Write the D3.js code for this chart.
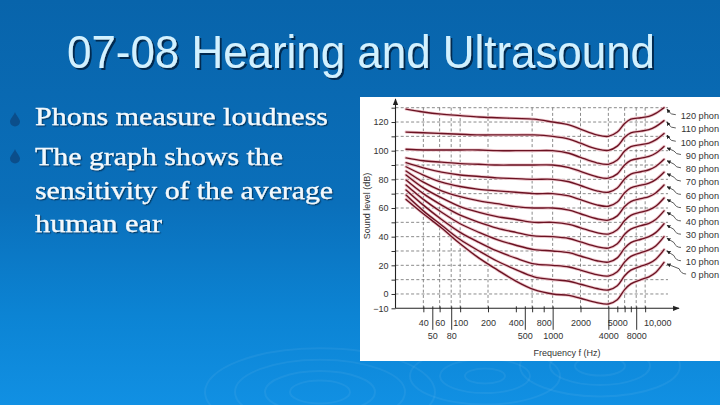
<!DOCTYPE html>
<html><head><meta charset="utf-8">
<script src="https://cdn.jsdelivr.net/npm/d3@7"></script>
<style>html,body{margin:0;padding:0;overflow:hidden;background:#0a6ab3}</style>
</head><body><svg id="c" width="720" height="405"></svg>
<script>
// ---- data ----
const freqs = [26, 40, 63, 100, 160, 250, 400, 630, 1000, 1500, 2000, 3000, 4000, 5000, 6000, 7000, 9000, 11000, 13000, 16000];
const phon0   = [66, 56, 46, 35, 25, 17, 9, 3, 0, -1, -3, -6, -7, -4, 3, 7, 10, 12, 15, 22];
const phon10  = [69, 58, 48, 38, 30, 23, 17, 12, 10, 8.9, 6.8, 3.8, 2.8, 5.8, 12.7, 16.6, 19.4, 21.3, 24.2, 31];
const phon20  = [72.6, 62, 52, 43, 36, 30, 25, 21, 20, 18.8, 16.7, 13.5, 12.5, 15.5, 22.3, 26.2, 28.8, 30.7, 33.5, 40];
const phon30  = [76, 66, 57, 49, 43, 38, 34, 31, 30, 28.8, 26.5, 23.2, 22.2, 25.2, 32, 35.8, 38.2, 40, 42.8, 49];
const phon40  = [79.5, 70, 62, 55, 50, 46, 43, 40.5, 40, 38.7, 36.3, 33, 32, 35, 41.7, 45.3, 47.7, 49.3, 52, 58];
const phon50  = [83, 74, 67, 61, 57, 54, 52, 50, 50, 48.6, 46.2, 42.8, 41.8, 44.8, 51.3, 54.9, 57.1, 58.7, 61.2, 67];
const phon60  = [85.8, 78, 72, 68, 65, 63, 61, 60, 60, 58.5, 56, 52.5, 51.5, 54.5, 61, 64.5, 66.5, 68, 70.5, 76];
const phon70  = [88.8, 83, 78, 75, 73, 72, 71, 70, 70, 68.4, 65.8, 62.2, 61.2, 64.2, 70.7, 74.1, 75.9, 77.3, 79.8, 85];
const phon80  = [91.6, 88, 85, 83, 82, 81, 80.5, 80, 80, 78.3, 75.7, 72, 71, 74, 80.3, 83.7, 85.3, 86.7, 89, 94];
const phon90  = [95, 93, 92, 91, 90.5, 90, 90, 90, 90, 88.2, 85.5, 81.8, 80.8, 83.8, 90, 93.2, 94.8, 96, 98.2, 103];
const phon100 = [101, 100.5, 100.5, 100.5, 100.5, 100, 100, 100, 100, 98.2, 95.3, 91.5, 90.5, 93.5, 99.7, 102.8, 104.2, 105.3, 107.5, 112];
const phon110 = [113, 112.5, 112, 111.5, 111, 111, 111, 111, 110, 108.1, 105.2, 101.2, 100.2, 103.2, 109.3, 112.4, 113.6, 114.7, 116.8, 121];
const phon120 = [129, 127, 125.5, 124.5, 123.5, 123, 122.5, 122, 120, 118, 115, 111, 110, 113, 119, 122, 123, 124, 126, 130];
const phonLevels = [0, 10, 20, 30, 40, 50, 60, 70, 80, 90, 100, 110, 120];
const phonLabels = ["0 phon", "10 phon", "20 phon", "30 phon", "40 phon", "50 phon", "60 phon", "70 phon", "80 phon", "90 phon", "100 phon", "110 phon", "120 phon"];
const yLabelValues = [-10, 0, 20, 40, 60, 80, 100, 120];
const yGridValues = [-10, 0, 10, 20, 30, 40, 50, 60, 70, 80, 90, 100, 110, 120, 130];
const xTopTicks = [40, 60, 100, 200, 400, 800, 2000, 5000, 10000];
const xTopLabels = ["40", "60", "100", "200", "400", "800", "2000", "5000", "10,000"];
const xBottomTicks = [50, 80, 500, 1000, 4000, 8000];
const xBottomLabels = ["50", "80", "500", "1000", "4000", "8000"];
const xMinorTicks = [600, 6000, 7000];
const xGridValues = [40, 60, 80, 100, 200, 600, 1000, 2000, 4000, 6000, 8000, 10000];
const titleText = "07-08 Hearing and Ultrasound";
const bullet1 = ["Phons measure loudness"];
const bullet2 = ["The graph shows the", "sensitivity of the average", "human ear"];

const series = [phon0, phon10, phon20, phon30, phon40, phon50, phon60, phon70, phon80, phon90, phon100, phon110, phon120];

// ---- drawing ----
const svg = d3.select("#c");
const defs = svg.append("defs");
const bg = defs.append("linearGradient").attr("id", "bg").attr("x1", 0).attr("y1", 0).attr("x2", 0).attr("y2", 1);
[[0, "#0864ab"], [0.5, "#0a6fba"], [0.78, "#0c84d4"], [1, "#1190e3"]].forEach(s => bg.append("stop").attr("offset", s[0]).attr("stop-color", s[1]));
defs.append("marker").attr("id", "arr").attr("viewBox", "0 0 10 10").attr("refX", 9).attr("refY", 5)
  .attr("markerWidth", 5).attr("markerHeight", 5).attr("orient", "auto")
  .append("path").attr("d", "M0,0L10,5L0,10Z").attr("fill", "#222");
defs.append("marker").attr("id", "axarr").attr("viewBox", "0 0 10 10").attr("refX", 9).attr("refY", 5)
  .attr("markerWidth", 6).attr("markerHeight", 6).attr("orient", "auto")
  .append("path").attr("d", "M0,1L10,5L0,9Z").attr("fill", "#222");
const sh = defs.append("filter").attr("id", "shadow").attr("x", "-5%").attr("y", "-20%").attr("width", "110%").attr("height", "140%");
sh.append("feDropShadow").attr("dx", 2).attr("dy", 2).attr("stdDeviation", 0.6).attr("flood-color", "#06223f").attr("flood-opacity", 0.85);
const sh2 = defs.append("filter").attr("id", "shadow2").attr("x", "-5%").attr("y", "-20%").attr("width", "110%").attr("height", "140%");
sh2.append("feDropShadow").attr("dx", 1.2).attr("dy", 1.2).attr("stdDeviation", 0.5).attr("flood-color", "#06223f").attr("flood-opacity", 0.7);

svg.append("rect").attr("width", 720).attr("height", 405).attr("fill", "url(#bg)");

// faint ripples
const ripples = svg.append("g").attr("fill", "none").attr("stroke", "#ffffff").attr("stroke-opacity", 0.055).attr("stroke-width", 2);
[[320, 392, [30, 55, 85, 115]], [485, 376, [20, 45, 75]], [600, 366, [25, 50, 80]]].forEach(r => {
  r[2].forEach(rad => ripples.append("ellipse").attr("cx", r[0]).attr("cy", r[1]).attr("rx", rad).attr("ry", rad * 0.38));
});

// title
svg.append("text").attr("x", 361).attr("y", 68).attr("text-anchor", "middle")
  .attr("font-family", "Liberation Sans, Arial, sans-serif").attr("font-size", 46)
  .attr("textLength", 588).attr("lengthAdjust", "spacingAndGlyphs")
  .attr("fill", "#d2f1ff").attr("filter", "url(#shadow)").text(titleText);

// bullets
function drop(cx, cy) {
  svg.append("path").attr("d", `M${cx},${cy - 7} C${cx - 1},${cy - 4} ${cx - 5},${cy} ${cx - 5},${cy + 2.5} A5,5 0 0 0 ${cx + 5},${cy + 2.5} C${cx + 5},${cy} ${cx + 1},${cy - 4} ${cx},${cy - 7} Z`)
    .attr("fill", "#0b4e8b");
}
drop(15, 119);
drop(15, 156);
const bt = svg.append("g").attr("font-family", "Liberation Serif, Times New Roman, serif").attr("font-size", 25)
  .attr("fill", "#f3f9fd").attr("stroke", "#f3f9fd").attr("stroke-width", 0.3).attr("filter", "url(#shadow2)");
const lineW1 = [293];
const lineW2 = [248, 298, 127];
bullet1.forEach((t, i) => bt.append("text").attr("x", 35).attr("y", 125).attr("textLength", lineW1[i]).attr("lengthAdjust", "spacingAndGlyphs").text(t));
bullet2.forEach((t, i) => bt.append("text").attr("x", 35).attr("y", 165 + i * 33.5).attr("textLength", lineW2[i]).attr("lengthAdjust", "spacingAndGlyphs").text(t));

// chart panel
svg.append("rect").attr("x", 360).attr("y", 97).attr("width", 362).attr("height", 264).attr("fill", "#ffffff");

const x = d3.scaleLog().domain([20, 20000]).range([395.5, 673]);
const y = d3.scaleLinear().domain([-10, 130]).range([308.3, 107.7]);

const g = svg.append("g").attr("font-family", "Liberation Sans, Arial, sans-serif");

// grid
g.append("g").selectAll("line").data(yGridValues.slice(1)).join("line")
  .attr("x1", x(20)).attr("x2", 668).attr("y1", d => y(d)).attr("y2", d => y(d))
  .attr("stroke", "#6d6d6d").attr("stroke-width", 0.8).attr("stroke-dasharray", "3,2.2");
g.append("g").selectAll("line").data(xGridValues).join("line")
  .attr("x1", d => x(d)).attr("x2", d => x(d)).attr("y1", y(-10)).attr("y2", y(130))
  .attr("stroke", "#6d6d6d").attr("stroke-width", 0.8).attr("stroke-dasharray", "3,2.2");

// curves
const line = d3.line().x((d, i) => x(freqs[i])).y(d => y(d)).curve(d3.curveCatmullRom.alpha(0.5));
const cg = g.append("g").attr("fill", "none");
series.forEach(s => {
  cg.append("path").attr("d", line(s)).attr("stroke", "#ecc3c9").attr("stroke-width", 3).attr("stroke-linecap", "round");
});
series.forEach(s => {
  cg.append("path").attr("d", line(s)).attr("stroke", "#6a1222").attr("stroke-width", 1.35).attr("stroke-linecap", "round");
});

// y axis
const yAxis = d3.axisLeft(y).tickValues(yGridValues).tickSize(4).tickPadding(3)
  .tickFormat(d => yLabelValues.includes(d) ? d3.format("d")(d) : "");
const ya = g.append("g").attr("transform", `translate(${x(20)},0)`).call(yAxis);
ya.select(".domain").remove();
ya.selectAll("line").attr("stroke", "#333");
ya.selectAll("text").attr("font-size", 9).attr("fill", "#333").attr("font-family", "Liberation Sans, Arial, sans-serif");
g.append("line").attr("x1", x(20)).attr("x2", x(20)).attr("y1", y(-10)).attr("y2", 99)
  .attr("stroke", "#222").attr("stroke-width", 1.1).attr("marker-end", "url(#axarr)");

// x axis
const xTop = d3.axisBottom(x).tickValues(xTopTicks).tickSize(4).tickPadding(7.5)
  .tickFormat((d, i) => xTopLabels[i]);
const xa1 = g.append("g").attr("transform", `translate(0,${y(-10)})`).call(xTop);
xa1.select(".domain").remove();
xa1.selectAll("text").attr("dx", d => d === 10000 ? 12 : 0);
const xBot = d3.axisBottom(x).tickValues(xBottomTicks).tickSize(21.5).tickPadding(3)
  .tickFormat((d, i) => xBottomLabels[i]);
const xa2 = g.append("g").attr("transform", `translate(0,${y(-10)})`).call(xBot);
xa2.select(".domain").remove();
const xMin = d3.axisBottom(x).tickValues(xMinorTicks).tickSize(4).tickFormat("");
const xa3 = g.append("g").attr("transform", `translate(0,${y(-10)})`).call(xMin);
xa3.select(".domain").remove();
[xa1, xa2, xa3].forEach(a => {
  a.selectAll("line").attr("stroke", "#333").attr("y1", -2);
  a.selectAll("text").attr("font-size", 9).attr("fill", "#333").attr("font-family", "Liberation Sans, Arial, sans-serif");
});
g.append("line").attr("x1", x(20)).attr("x2", 679).attr("y1", y(-10)).attr("y2", y(-10))
  .attr("stroke", "#222").attr("stroke-width", 1.1).attr("marker-end", "url(#axarr)");

// axis titles
g.append("text").attr("transform", "translate(370,206) rotate(-90)").attr("text-anchor", "middle")
  .attr("font-size", 9).attr("fill", "#333").text("Sound level (dB)");
g.append("text").attr("x", 567).attr("y", 356).attr("text-anchor", "middle")
  .attr("font-size", 9).attr("fill", "#333").text("Frequency f (Hz)");

// phon labels and leaders
const lastF = freqs[freqs.length - 1];
const labelY = d3.scaleLinear().domain([0, 120]).range([275, 115.7]);
phonLevels.forEach((p, i) => {
  const s = series[i];
  const ex = x(lastF), ey = y(s[s.length - 1]);
  const ly = labelY(p);
  const lx = 719 - phonLabels[i].length * 5.15 - 2;
  g.append("path")
    .attr("d", `M${lx},${ly - 1} Q${lx - 5},${ly - 1} ${lx - 7},${(ly + ey) / 2} L${ex + 3},${ey + 1.5}`)
    .attr("fill", "none").attr("stroke", "#333").attr("stroke-width", 0.8).attr("marker-end", "url(#arr)");
  g.append("text").attr("x", 719).attr("y", ly + 3.3).attr("text-anchor", "end")
    .attr("font-size", 9.2).attr("fill", "#333").text(phonLabels[i]);
});
</script>
</body></html>
